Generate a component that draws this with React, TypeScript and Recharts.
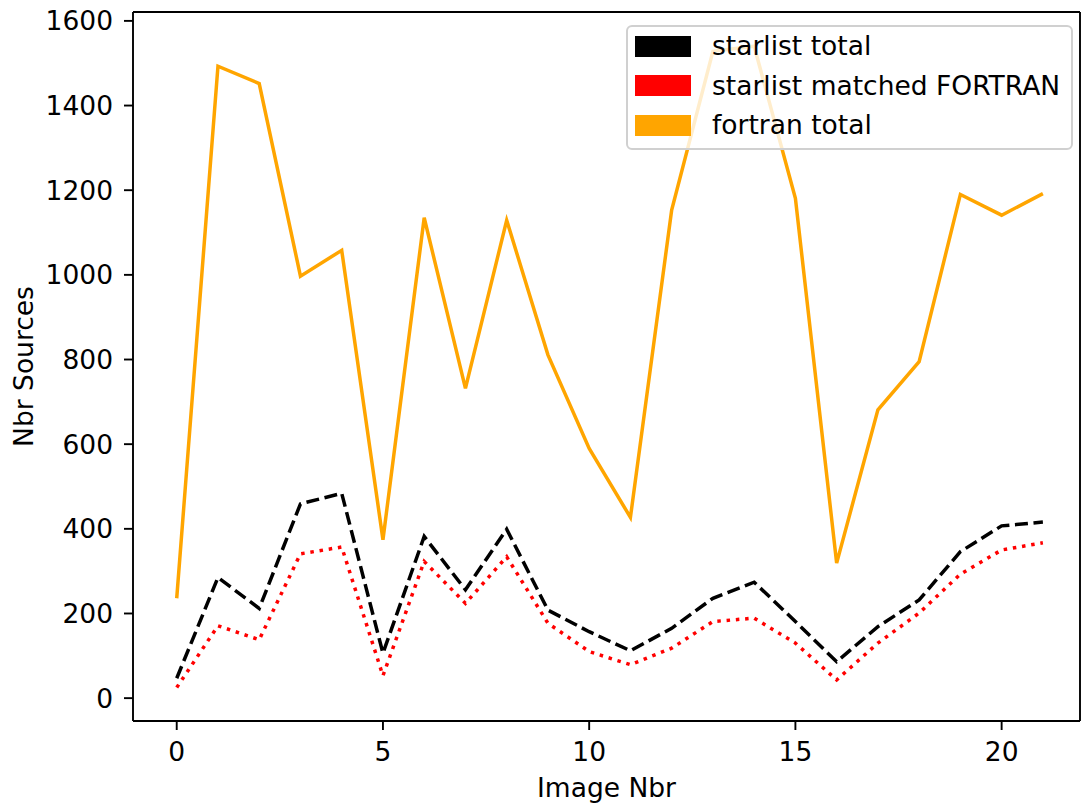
import {
  LineChart, Line, XAxis, YAxis, Legend, ReferenceLine,
} from 'recharts'

const imageNbr = [0, 1, 2, 3, 4, 5, 6, 7, 8, 9, 10, 11, 12, 13, 14, 15, 16, 17, 18, 19, 20, 21]
const starlistTotal = [47, 285, 212, 459, 484, 106, 382, 256, 399, 208, 157, 112, 165, 236, 274, 181, 86, 169, 232, 346, 407, 416]
const starlistMatched = [25, 171, 138, 341, 357, 53, 323, 224, 334, 177, 110, 79, 118, 181, 189, 130, 43, 130, 201, 293, 350, 367]
const fortranTotal = [236, 1493, 1452, 997, 1058, 374, 1135, 732, 1129, 811, 590, 427, 1153, 1528, 1540, 1181, 319, 681, 795, 1190, 1141, 1192]

const xTicks = [0, 5, 10, 15, 20]
const yTicks = [0, 200, 400, 600, 800, 1000, 1200, 1400, 1600]
const xDomain = [-1.06, 21.9]
const yDomain = [-54, 1621]

const seriesInfo = [
  { key: 'total', label: 'starlist total', color: '#000000' },
  { key: 'matched', label: 'starlist matched FORTRAN', color: '#ff0000' },
  { key: 'fortran', label: 'fortran total', color: '#ffa500' },
]

const data = imageNbr.map((n, i) => ({
  n,
  total: starlistTotal[i],
  matched: starlistMatched[i],
  fortran: fortranTotal[i],
}))

const FONT = 'DejaVu Sans, sans-serif'
const FS = 26.5
const tickStyle = { fontSize: FS, fill: '#000', fontFamily: FONT }

function LegendBox() {
  return (
    <div style={{
      width: 447,
      height: 125,
      boxSizing: 'border-box',
      border: '2px solid #d0d0d0',
      borderRadius: 6,
      background: 'rgba(255,255,255,0.8)',
      paddingTop: 0,
      fontFamily: FONT,
      fontSize: FS,
      color: '#000',
    }}>
      {seriesInfo.map(s => (
        <div key={s.key} style={{ display: 'flex', alignItems: 'center', height: 39.3 }}>
          <div style={{ width: 56, height: 21, background: s.color, marginLeft: 7, marginRight: 21 }} />
          <span style={{ whiteSpace: 'nowrap', lineHeight: 1 }}>{s.label}</span>
        </div>
      ))}
    </div>
  )
}

export default function App() {
  return (
    <div style={{ position: 'absolute', left: 0, top: 0, fontFamily: FONT }}>
      <LineChart
        width={1082}
        height={803}
        data={data}
        margin={{ top: 12, right: 2, left: 0, bottom: 0 }}
      >
        <XAxis
          dataKey="n"
          type="number"
          domain={xDomain}
          allowDataOverflow
          ticks={xTicks}
          height={82}
          tick={tickStyle}
          tickSize={9}
          tickMargin={12}
          axisLine={{ stroke: '#000', strokeWidth: 1.9 }}
          tickLine={{ stroke: '#000', strokeWidth: 1.9 }}
          label={(p: any) => {
            const vb = p.viewBox
            return (
              <text x={vb.x + vb.width / 2} y={vb.y + 76} textAnchor="middle"
                style={{ fontSize: FS, fontFamily: FONT, fill: '#000' }}>
                Image Nbr
              </text>
            )
          }}
        />
        <YAxis
          type="number"
          domain={yDomain}
          allowDataOverflow
          ticks={yTicks}
          width={133}
          tick={tickStyle}
          tickSize={9}
          tickMargin={11}
          axisLine={{ stroke: '#000', strokeWidth: 1.9 }}
          tickLine={{ stroke: '#000', strokeWidth: 1.9 }}
          label={(p: any) => {
            const vb = p.viewBox
            const cx = 33
            const cy = vb.y + vb.height / 2
            return (
              <text x={cx} y={cy} textAnchor="middle" transform={`rotate(-90 ${cx} ${cy})`}
                style={{ fontSize: FS, fontFamily: FONT, fill: '#000' }}>
                Nbr Sources
              </text>
            )
          }}
        />
        <ReferenceLine y={yDomain[1]} stroke="#000" strokeWidth={1.9} />
        <ReferenceLine x={xDomain[1]} stroke="#000" strokeWidth={1.9} />
        <Line
          dataKey="total"
          type="linear"
          stroke="#000000"
          strokeWidth={3.5}
          strokeDasharray="13 5.6"
          dot={false}
          isAnimationActive={false}
        />
        <Line
          dataKey="matched"
          type="linear"
          stroke="#ff0000"
          strokeWidth={3.5}
          strokeDasharray="3.5 5.8"
          dot={false}
          isAnimationActive={false}
        />
        <Line
          dataKey="fortran"
          type="linear"
          stroke="#ffa500"
          strokeWidth={3.5}
          dot={false}
          isAnimationActive={false}
        />
        <Legend
          layout="vertical"
          align="center"
          verticalAlign="middle"
          content={() => <LegendBox />}
          wrapperStyle={{ left: 626, top: 25, width: 447, height: 125 }}
        />
      </LineChart>
    </div>
  )
}
